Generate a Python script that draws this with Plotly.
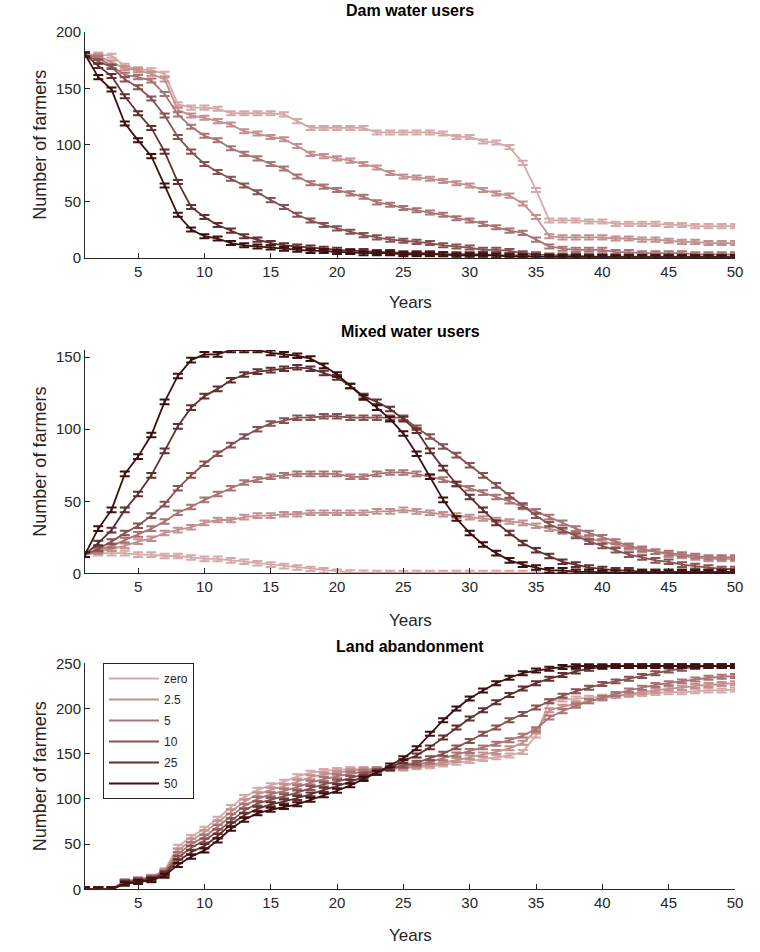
import plotly.graph_objects as go

YEARS = list(range(1, 51))
SERIES = ["zero", "2.5", "5", "10", "25", "50"]
COLORS = ["rgb(214,168,168)", "rgb(196,143,143)", "rgb(170,116,116)",
          "rgb(135,82,82)", "rgb(98,48,48)", "rgb(62,16,16)"]

DAM_ZERO = [180,180,179,170,167,166,163,136,133,133, 132,128,128,128,128,127,121,115,115,115,
            115,115,111,111,111,111,111,110,107,107, 103,102,98,84,60,33,33,33,32,32,
            30,30,30,30,29,29,28,28,28,28]
DAM_2_5 = [180,179,173,168,166,163,158,131,126,124, 121,118,112,110,107,105,99,92,90,88,
           86,83,80,75,72,71,70,68,66,64, 60,57,55,48,36,19,18,18,18,18,
           17,17,16,16,15,14,14,13,13,13]
DAM_5 = [180,177,170,162,160,157,145,127,116,108, 104,97,92,88,83,79,72,66,63,60,
         57,54,49,47,44,42,40,38,35,33, 30,27,24,22,16,10,8,7,7,7,
         5,5,4,4,4,4,3,3,3,3]
DAM_10 = [180,174,169,158,151,141,126,107,94,83, 76,70,64,58,51,45,38,33,29,26,
          23,20,18,16,15,14,13,11,10,9, 7,7,6,4,3,2,2,2,1,1,
          1,1,1,1,1,1,1,1,1,1]
DAM_25 = [180,170,161,143,128,115,94,67,45,36, 29,24,19,16,13,11,10,9,8,7,
          6,6,5,5,4,4,4,3,3,3, 3,2,2,2,1,1,1,1,1,1,
          0.5,0.5,0.5,0.5,0.5,0.5,0.5,0.5,0.5,0.5]
DAM_50 = [180,160,149,119,104,90,64,38,25,19, 17,13,11,10,9,8,7,6,6,5,
          5,4,4,4,3,3,3,3,2,2, 2,2,1,1,1,0.5,0.5,0.5,0.5,0.5,
          0.3,0.3,0.3,0.3,0.3,0.3,0.3,0.3,0.3,0.3]

MIX_ZERO = [13,14,14,14,13,13,12,12,11,10, 10,9,8,7,6,5,4,3,2,1,
            0.5,0.3,0.2,0.2,0.2,0.2,0.2,0.2,0.2,0.2, 0.2,0.2,0.2,0.2,0.2,0.2,0.2,0.2,0.2,0.2,
            0.2,0.2,0.2,0.2,0.2,0.2,0.2,0.2,0.2,0.2]
MIX_2_5 = [13,15,17,19,22,24,28,30,32,35, 37,37,39,40,40,41,41,42,42,42,
           42,42,43,43,44,43,42,41,40,39, 38,37,36,35,33,31,29,27,24,22,
           20,18,16,15,13,12,11,10,10,10]
MIX_5 = [13,16,19,23,27,31,36,42,46,51, 55,59,63,65,67,68,69,69,69,69,
         67,67,69,70,70,69,67,65,62,59, 56,53,50,46,43,39,35,31,28,25,
         22,19,17,15,14,13,12,11,11,11]
MIX_10 = [13,17,22,28,33,40,48,59,68,76, 83,89,95,100,104,106,108,108,109,109,
          108,108,108,108,108,101,95,88,82,75, 68,61,54,47,40,34,30,26,22,19,
          16,13,11,9,8,6,5,4,3,3]
MIX_25 = [13,21,30,44,55,68,85,102,115,123, 128,134,138,140,141,142,143,142,139,136,
          130,123,119,114,107,99,85,73,62,53, 44,35,28,21,16,12,8,6,4,3,
          2,2,1,1,1,1,1,1,1,1]
MIX_50 = [13,31,44,69,81,96,119,137,148,152, 152,155,155,155,153,152,151,149,144,138,
          130,122,115,107,97,83,67,51,38,28, 20,14,9,6,4,2,2,1,1,0.5,
          0.5,0.5,0.5,0.5,0.5,0.5,0.5,0.5,0.5,0.5]

LAND_ZERO = [0,0,0,9,11,14,21,47,58,67, 78,91,102,110,115,119,125,129,131,132,
             133,133,133,133,134,135,136,138,140,142, 144,146,148,152,170,208,210,211,212,213,
             214,215,216,217,218,218,219,220,220,221]
LAND_2_5 = [0,0,0,9,11,13,20,43,54,63, 74,86,97,105,110,114,119,124,127,129,
            131,132,133,134,134,136,138,140,143,146, 149,152,156,162,175,198,202,205,208,211,
            214,216,218,220,222,223,225,226,227,228]
LAND_5 = [0,0,0,8,10,13,19,39,50,58, 69,81,92,100,105,109,113,118,122,125,
          128,130,132,134,136,138,141,145,149,153, 157,161,165,170,177,190,197,203,208,212,
          216,220,223,226,228,230,232,234,235,236]
LAND_10 = [0,0,0,8,10,12,18,35,46,54, 64,76,87,95,99,103,107,112,116,119,
           123,127,131,134,137,140,145,150,157,164, 172,179,187,194,201,208,214,219,223,227,
           230,233,236,239,242,244,246,247,247,247]
LAND_25 = [0,0,0,7,9,11,17,31,41,48, 59,72,82,89,94,97,101,105,110,114,
           119,124,129,134,142,148,157,168,179,189, 198,207,215,222,228,233,237,241,244,246,
           247,247,247,247,247,247,247,247,247,247]
LAND_50 = [0,0,0,6,8,10,15,27,36,43, 54,67,77,84,88,91,94,99,104,109,
           115,122,129,137,145,156,172,187,200,211, 220,228,234,239,242,244,246,247,247,247,
           247,247,247,247,247,247,247,247,247,247]

PANELS = [
    ("Dam water users", [DAM_ZERO, DAM_2_5, DAM_5, DAM_10, DAM_25, DAM_50], [0, 200], [0, 50, 100, 150, 200]),
    ("Mixed water users", [MIX_ZERO, MIX_2_5, MIX_5, MIX_10, MIX_25, MIX_50], [0, 155], [0, 50, 100, 150]),
    ("Land abandonment", [LAND_ZERO, LAND_2_5, LAND_5, LAND_10, LAND_25, LAND_50], [0, 250], [0, 50, 100, 150, 200, 250]),
]
ERR = [1.8, 1.6, 2.2]

W, H = 760.0, 952.0


def px(xp):
    return xp / W


def py(yp):
    return 1 - yp / H


BOXES = [(32, 257.7), (350, 573.3), (663.3, 889.3)]
TITLE_Y = [11, 331, 646]
XLAB_Y = [302, 620, 935]

AX = "#262626"
FONT = "Liberation Sans, Arial, sans-serif"

fig = go.Figure()
layout = dict(
    width=760, height=952, paper_bgcolor="white", plot_bgcolor="white",
    margin=dict(l=0, r=0, t=0, b=0, autoexpand=False),
    font=dict(family=FONT, size=15, color=AX),
    showlegend=True,
    legend=dict(x=px(103), y=py(663), xanchor="left", yanchor="top",
                bgcolor="white", bordercolor=AX, borderwidth=1,
                font=dict(size=12, color=AX), itemwidth=50, tracegroupgap=2),
    annotations=[],
)

for i, (title, data, yr, yt) in enumerate(PANELS):
    n = i + 1
    xa = "xaxis" if n == 1 else f"xaxis{n}"
    ya = "yaxis" if n == 1 else f"yaxis{n}"
    xref = "x" if n == 1 else f"x{n}"
    yref = "y" if n == 1 else f"y{n}"
    top, bot = BOXES[i]
    layout[xa] = dict(domain=[px(85), px(735)], range=[1, 50], anchor=yref,
                      tickvals=[5, 10, 15, 20, 25, 30, 35, 40, 45, 50],
                      ticks="inside", ticklen=5, tickcolor=AX, showline=True,
                      linecolor=AX, linewidth=1, showgrid=False, zeroline=False,
                      automargin=False, tickfont=dict(size=15, color=AX))
    layout[ya] = dict(domain=[py(bot), py(top)], range=yr, anchor=xref,
                      tickvals=yt, ticks="inside", ticklen=5, tickcolor=AX,
                      showline=True, linecolor=AX, linewidth=1, showgrid=False,
                      zeroline=False, automargin=False, tickfont=dict(size=15, color=AX))
    layout["annotations"].append(dict(text="<b>" + title + "</b>", x=px(410), y=py(TITLE_Y[i]),
                                      xref="paper", yref="paper", showarrow=False,
                                      font=dict(size=16, color="black"), yanchor="middle"))
    layout["annotations"].append(dict(text="Years", x=px(410), y=py(XLAB_Y[i]),
                                      xref="paper", yref="paper", showarrow=False,
                                      font=dict(size=17, color=AX), yanchor="middle"))
    layout["annotations"].append(dict(text="Number of farmers", x=px(40), y=py((top+bot)/2),
                                      xref="paper", yref="paper", showarrow=False, textangle=-90,
                                      font=dict(size=18, color=AX), xanchor="center", yanchor="middle"))
    for j, vals in enumerate(data):
        fig.add_trace(go.Scatter(
            x=YEARS, y=vals, mode="lines", name=SERIES[j],
            xaxis=xref, yaxis=yref, legendgroup=SERIES[j],
            showlegend=(n == 3),
            line=dict(color=COLORS[j], width=1.8),
            error_y=dict(type="constant", value=ERR[i], color=COLORS[j],
                         thickness=2, width=5),
        ))

fig.update_layout(**layout)
fig.write_html("out.html", config={"displayModeBar": False},
               post_script="document.body.style.margin='0';document.body.style.padding='0';")
